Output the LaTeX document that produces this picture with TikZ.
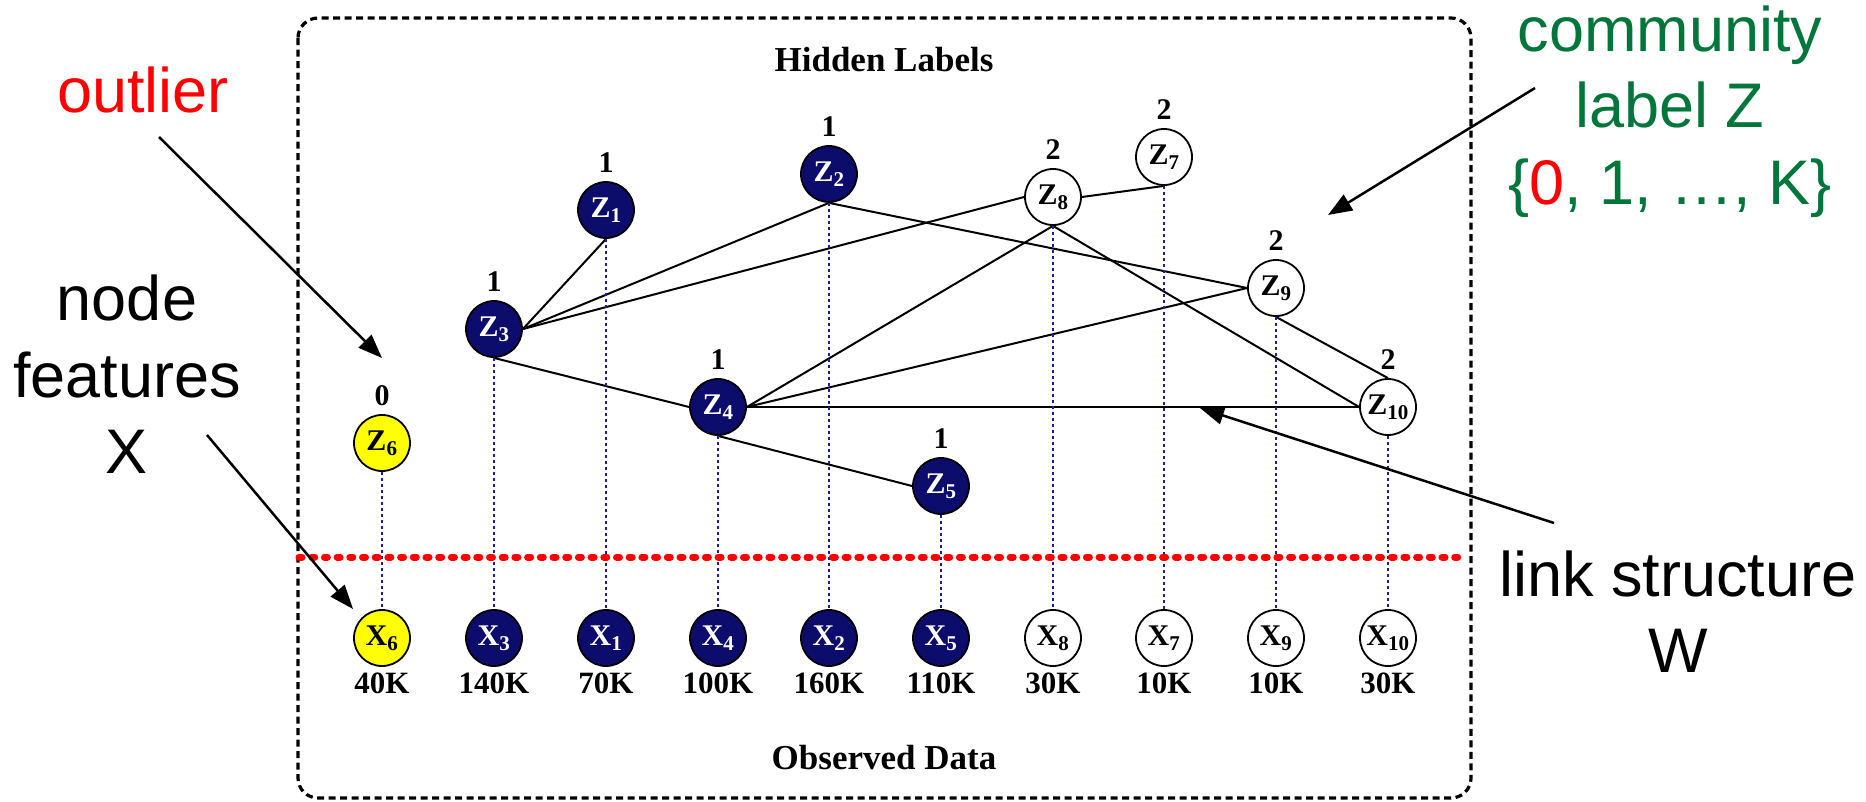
\documentclass[tikz,border=0pt]{standalone}
\usepackage{fontspec}
\setmainfont{Liberation Serif}
\newfontfamily\arialfont{Liberation Sans}
\usetikzlibrary{arrows.meta}

\definecolor{navyfill}{RGB}{12,12,108}
\definecolor{linkblue}{RGB}{30,30,150}
\definecolor{annogreen}{RGB}{0,118,58}
\definecolor{outred}{RGB}{255,0,0}
\definecolor{hiyellow}{RGB}{255,255,0}

\tikzset{
  vnode/.style={circle, draw=black, line width=1.8pt, minimum size=56pt, inner sep=0pt,
                font=\fontsize{30}{30}\selectfont\bfseries},
  zdark/.style={vnode, fill=navyfill, text=white},
  zwhite/.style={vnode, fill=white, text=black},
  zyellow/.style={vnode, fill=hiyellow, text=black},
  numlbl/.style={inner sep=0pt, font=\fontsize{30}{30}\selectfont\bfseries},
  kval/.style={inner sep=0pt, anchor=base, font=\fontsize{31}{31}\selectfont\bfseries},
  title/.style={inner sep=0pt, anchor=base, font=\fontsize{35}{35}\selectfont\bfseries},
  edge/.style={draw=black, line width=2pt},
  obs/.style={draw=linkblue, line width=1.7pt, dash pattern=on 3.5pt off 2.5pt},
  frame/.style={draw=black, line width=3.2pt, dash pattern=on 7pt off 4.5pt, rounded corners=20pt},
  sepline/.style={draw=outred, line width=7pt, line cap=round, dash pattern=on 3pt off 9.7pt},
  ann/.style={draw=black, line width=2.5pt, -{Triangle[length=24pt,width=18pt]}},
  anntext/.style={inner sep=0pt, anchor=base, font=\arialfont\fontsize{63}{77}\selectfont},
  label distance=8pt
}

\begin{document}
\begin{tikzpicture}[x=1pt, y=-1pt]
\useasboundingbox (0,0) rectangle (1866,801);

% outer frame
\draw[frame] (298,18) rectangle (1471,798);

\node[title] (hidden) at (884,71) {Hidden Labels};
\node[title] (observed) at (884,769) {Observed Data};

% hidden label nodes
\node[zdark,   label={[numlbl]90:1}] (Z1)  at (606,210)  {Z\textsubscript{1}};
\node[zdark,   label={[numlbl]90:1}] (Z2)  at (829,174)  {Z\textsubscript{2}};
\node[zdark,   label={[numlbl]90:1}] (Z3)  at (494,329)  {Z\textsubscript{3}};
\node[zdark,   label={[numlbl]90:1}] (Z4)  at (718,407)  {Z\textsubscript{4}};
\node[zdark,   label={[numlbl]90:1}] (Z5)  at (941,486)  {Z\textsubscript{5}};
\node[zyellow, label={[numlbl]90:0}] (Z6)  at (382,443)  {Z\textsubscript{6}};
\node[zwhite,  label={[numlbl]90:2}] (Z7)  at (1164,157) {Z\textsubscript{7}};
\node[zwhite,  label={[numlbl]90:2}] (Z8)  at (1053,197) {Z\textsubscript{8}};
\node[zwhite,  label={[numlbl]90:2}] (Z9)  at (1276,288) {Z\textsubscript{9}};
\node[zwhite,  label={[numlbl]90:2}] (Z10) at (1388,407) {Z\textsubscript{10}};

% links between hidden labels
\draw[edge] (Z3.east)  -- (Z1.south);
\draw[edge] (Z3.east)  -- (Z2.south);
\draw[edge] (Z3.east)  -- (Z8.west);
\draw[edge] (Z3.south) -- (Z4.west);
\draw[edge] (Z2.south) -- (Z9.west);
\draw[edge] (Z8.east)  -- (Z7.south);
\draw[edge] (Z8.south) -- (Z4.east);
\draw[edge] (Z8.south) -- (Z10.west);
\draw[edge] (Z4.east)  -- (Z9.west);
\draw[edge] (Z4.east)  -- (Z10.west);
\draw[edge] (Z4.south) -- (Z5.west);
\draw[edge] (Z9.south) -- (Z10.north);

% observed feature nodes
\node[zyellow] (X6)  at (382,638)  {X\textsubscript{6}};
\node[zdark]   (X3)  at (494,638)  {X\textsubscript{3}};
\node[zdark]   (X1)  at (606,638)  {X\textsubscript{1}};
\node[zdark]   (X4)  at (718,638)  {X\textsubscript{4}};
\node[zdark]   (X2)  at (829,638)  {X\textsubscript{2}};
\node[zdark]   (X5)  at (941,638)  {X\textsubscript{5}};
\node[zwhite]  (X8)  at (1053,638) {X\textsubscript{8}};
\node[zwhite]  (X7)  at (1164,638) {X\textsubscript{7}};
\node[zwhite]  (X9)  at (1276,638) {X\textsubscript{9}};
\node[zwhite]  (X10) at (1388,638) {X\textsubscript{10}};

\node[kval] (k6)  at (382,693)  {40K};
\node[kval] (k3)  at (494,693)  {140K};
\node[kval] (k1)  at (606,693)  {70K};
\node[kval] (k4)  at (718,693)  {100K};
\node[kval] (k2)  at (829,693)  {160K};
\node[kval] (k5)  at (941,693)  {110K};
\node[kval] (k8)  at (1053,693) {30K};
\node[kval] (k7)  at (1164,693) {10K};
\node[kval] (k9)  at (1276,693) {10K};
\node[kval] (k10) at (1388,693) {30K};

% label-to-feature correspondences
\foreach \i in {1,...,10} {
  \draw[obs] (Z\i.south) -- (X\i.north);
}

% separator between hidden and observed layers
\coordinate (sepL) at (299,557);
\coordinate (sepR) at (1466,557);
\draw[sepline] (sepL) -- (sepR);

% annotations
\node[anntext, text=outred] (outlier) at (143,112) {outlier};
\node[anntext] (nf1) at (127,320) {node};
\node[anntext] (nf2) at (127,397) {features};
\node[anntext] (nf3) at (127,473) {X};
\node[anntext, text=annogreen] (cl1) at (1670,51)  {community};
\node[anntext, text=annogreen] (cl2) at (1670,127) {label Z};
\node[anntext, text=annogreen] (cl3) at (1670,204) {\{\textcolor{outred}{0}, 1, \dots, K\}};
\node[anntext] (ls1) at (1678,596) {link structure};
\node[anntext] (ls2) at (1678,672) {W};

\coordinate (a1s) at (159,137);  \coordinate (a1e) at (382,358);
\coordinate (a2s) at (207,435);  \coordinate (a2e) at (353,609);
\coordinate (a3s) at (1535,88);  \coordinate (a3e) at (1328,215);
\coordinate (a4s) at (1554,523); \coordinate (a4e) at (1200,408);
\draw[ann] (a1s) -- (a1e);
\draw[ann] (a2s) -- (a2e);
\draw[ann] (a3s) -- (a3e);
\draw[ann] (a4s) -- (a4e);
\end{tikzpicture}
\end{document}
